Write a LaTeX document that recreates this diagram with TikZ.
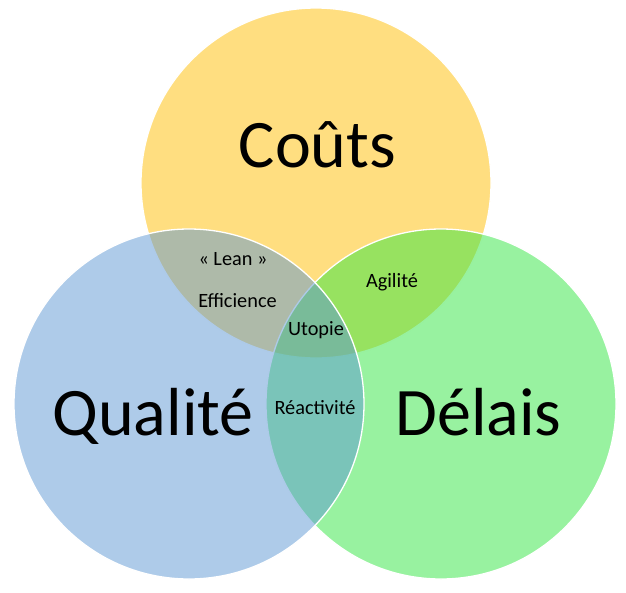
\documentclass[tikz,border=0pt]{standalone}
\usepackage{fontspec}
\setmainfont{Carlito}
\usetikzlibrary{positioning}
\definecolor{cgold}{RGB}{255,190,2}
\definecolor{cblue}{RGB}{93,151,211}
\definecolor{cgreen}{RGB}{49,229,65}
\begin{document}
\begin{tikzpicture}[x=1pt,y=-1pt,
	c/.style={draw=white,line width=1.3pt,circle,minimum size=350pt,inner sep=0pt,fill opacity=0.5},
	big/.style={font=\fontsize{68}{72}\selectfont,anchor=base,inner sep=0pt},
	sm/.style={font=\fontsize{20.3}{23}\selectfont,anchor=base,inner sep=0pt}]
	\useasboundingbox (0,0) rectangle (626,592);
	%cercles
	\node(c1)[c,fill=cgold] at (316,183){};
	\node(c3)[c,fill=cgreen] at (441,404){};
	\node(c2)[c,fill=cblue] at (189,404){};
	%grands textes
	\node(t1)[big] at (317.5,167){Coûts};
	\node(t2)[big] at (153,435){Qualité};
	\node(t3)[big] at (478.5,435){Délais};
	%intersections
	\node(i1)[sm] at (233,265){« Lean »};
	\node(i2)[sm] at (237.5,307){Efficience};
	\node(i3)[sm] at (392,287){Agilité};
	\node(i4)[sm] at (316,335){Utopie};
	\node(i5)[sm] at (315,414){Réactivité};
\end{tikzpicture}
\end{document}
